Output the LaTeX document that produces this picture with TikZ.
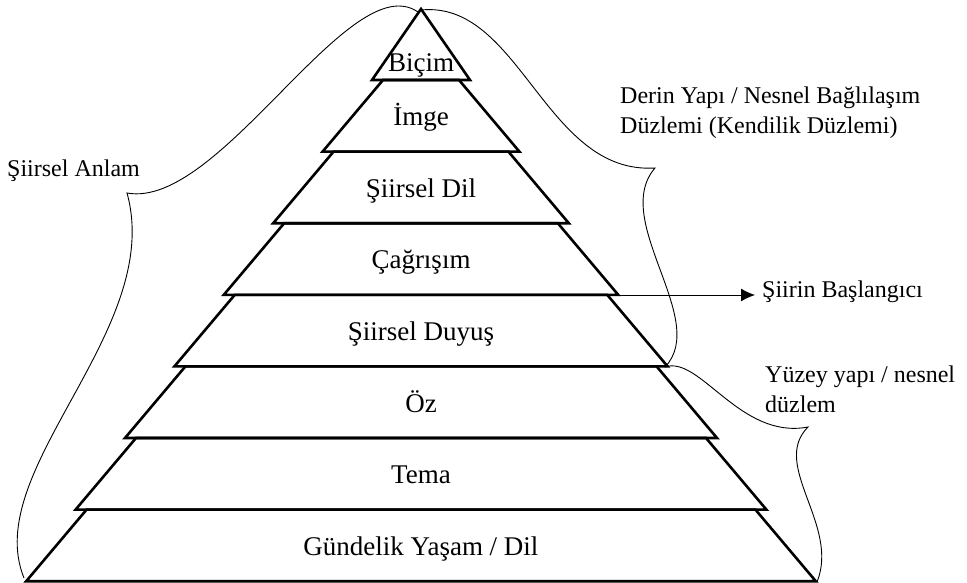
\documentclass[tikz,border=0pt]{standalone}
\usepackage{fontspec}
\setmainfont{Liberation Serif}
\usetikzlibrary{arrows.meta}

\tikzset{
  layer/.style={draw=black, line width=2.6pt, line join=miter},
  lbl/.style={font=\fontsize{27}{32}\selectfont, anchor=base, inner sep=0pt},
  side/.style={font=\fontsize{24}{30}\selectfont, inner sep=0pt, align=left},
  brace/.style={draw=black, line width=0.9pt},
}

\begin{document}
\begin{tikzpicture}[x=1pt,y=-1pt]
\useasboundingbox (0,0) rectangle (967,583);
\coordinate (apex) at (421,9);
\coordinate (c3) at (618,295);
% top triangle
\draw[layer] (apex) -- (372,80) -- (470,80) -- cycle;
\node[lbl] (l0) at (421,72) {Biçim};
% the other layers
\foreach \i/\txt in {1/İmge,2/Şiirsel Dil,3/Çağrışım,4/Şiirsel Duyuş,5/Öz,6/Tema,7/{Gündelik Yaşam / Dil}} {
 \pgfmathsetmacro{\yt}{80+71.6*(\i-1)}
 \pgfmathsetmacro{\yb}{80+71.6*\i}
 \pgfmathsetmacro{\wt}{38+49.4*(\i-1)}
 \pgfmathsetmacro{\wb}{49+49.4*\i}
 \draw[layer] (421-\wt,\yt) -- (421+\wt,\yt) -- (421+\wb,\yb) -- (421-\wb,\yb) -- cycle;
 \node[lbl] (l\i) at (421,\yb-26) {\txt};
}
% braces
\draw[brace] (418,12) .. controls (350,-35) and (220,210) .. (127,193)
  .. controls (165,330) and (-20,470) .. (24,578);
\draw[brace] (421,10) .. controls (520,0) and (545,175) .. (655,168)
  .. controls (610,220) and (710,320) .. (665,367);
\draw[brace] (665,367) .. controls (700,355) and (740,440) .. (808,427)
  .. controls (770,465) and (840,525) .. (817,582);
% labels
\node[side, anchor=base west] (anlam) at (7,176) {Şiirsel Anlam};
\node[side, anchor=north west] (derin) at (620,86.5) {Derin Yapı / Nesnel Bağlılaşım\\Düzlemi (Kendilik Düzlemi)};
\node[side, anchor=north west] (yuzey) at (765,365.5) {Yüzey yapı / nesnel\\düzlem};
\node[side, anchor=base west] (basla) at (762,297) {Şiirin Başlangıcı};
\draw[line width=1pt, -{Latex[length=14pt,width=13pt]}] (c3) -- ([xshift=-7pt]c3 -| basla.west);
\end{tikzpicture}
\end{document}
